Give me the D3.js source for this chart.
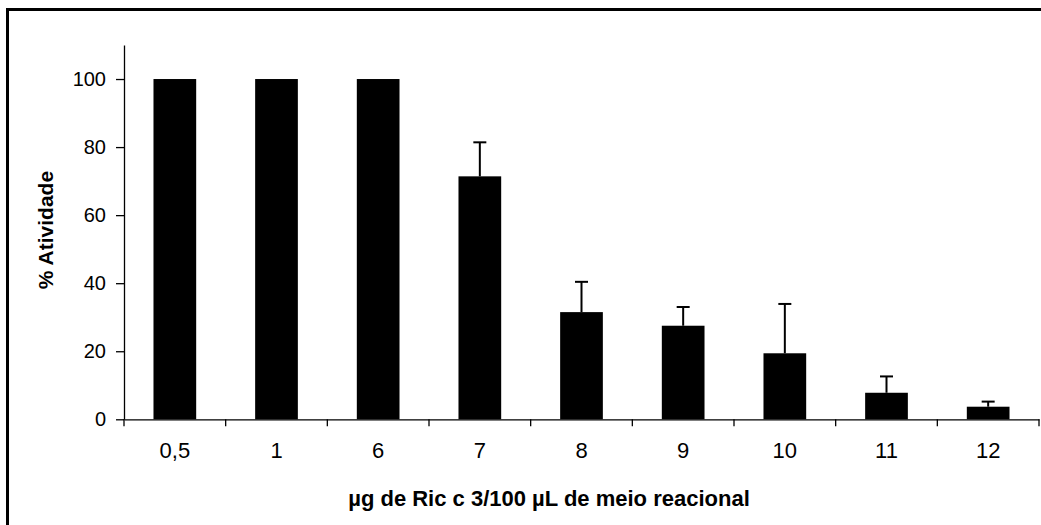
<!DOCTYPE html>
<html><head><meta charset="utf-8">
<script src="https://cdn.jsdelivr.net/npm/d3@7"></script>
<style>body{margin:0;background:#fff}svg{display:block}</style>
</head><body>
<svg id="c" width="1041" height="525"></svg>
<script>
const categories = ["0,5","1","6","7","8","9","10","11","12"];
const values = [100,100,100,71.4,31.5,27.5,19.4,7.8,3.7];
const errors = [0,0,0,10,8.9,5.5,14.5,4.8,1.5];
const yTicks = [0,20,40,60,80,100];

const svg = d3.select("#c");
const font = "'Liberation Sans', Arial, sans-serif";
svg.append("rect").attr("x",7.5).attr("y",9.5).attr("width",1040).attr("height",520)
  .attr("fill","none").attr("stroke","#000").attr("stroke-width",3);

const x0=124, x1=1039, yTop=45, yBot=419.3;
const x = d3.scaleBand().domain(categories).range([x0,x1]).paddingInner(0.58).paddingOuter(0.29);
const y = d3.scaleLinear().domain([0,110]).range([yBot,yTop]);

const g = svg.append("g");
// bars
g.selectAll("rect.bar").data(values).join("rect").attr("class","bar")
  .attr("x",(d,i)=>x(categories[i])).attr("width",x.bandwidth())
  .attr("y",d=>y(d)).attr("height",d=>y(0)-y(d)).attr("fill","#000");
// error bars
const eb = g.selectAll("g.err").data(values.map((v,i)=>({v,e:errors[i],c:categories[i]})).filter(d=>d.e>0)).join("g");
eb.append("line").attr("x1",d=>x(d.c)+x.bandwidth()/2).attr("x2",d=>x(d.c)+x.bandwidth()/2)
  .attr("y1",d=>y(d.v)).attr("y2",d=>y(d.v+d.e)).attr("stroke","#000").attr("stroke-width",2);
eb.append("line").attr("x1",d=>x(d.c)+x.bandwidth()/2-6.5).attr("x2",d=>x(d.c)+x.bandwidth()/2+6.5)
  .attr("y1",d=>y(d.v+d.e)).attr("y2",d=>y(d.v+d.e)).attr("stroke","#000").attr("stroke-width",2);

// y axis
const ya = svg.append("g").attr("transform",`translate(${x0},0)`)
  .call(d3.axisLeft(y).tickValues(yTicks).tickSize(8).tickPadding(10).tickSizeOuter(0));
ya.select(".domain").attr("stroke","#000").attr("stroke-width",1.3);
ya.selectAll(".tick line").attr("stroke","#000").attr("stroke-width",1.3);
ya.selectAll("text").attr("font-family",font).style("font-size","20px").attr("fill","#000");

// x axis
const xa = svg.append("g").attr("transform",`translate(0,${yBot})`)
  .call(d3.axisBottom(x).tickSize(0).tickPadding(23));
xa.select(".domain").attr("stroke","#000").attr("stroke-width",1.3);
xa.selectAll(".tick line").remove();
xa.selectAll("text").attr("font-family",font).style("font-size","22px").attr("fill","#000");
// boundary ticks
const bounds = d3.range(categories.length+1).map(i=>x0+i*(x1-x0)/categories.length);
svg.append("g").selectAll("line").data(bounds).join("line")
  .attr("x1",d=>d).attr("x2",d=>d).attr("y1",yBot).attr("y2",yBot+7)
  .attr("stroke","#000").attr("stroke-width",1.3);

// titles
svg.append("text").attr("transform","translate(53,230) rotate(-90)").attr("text-anchor","middle")
  .attr("font-family",font).style("font-size","21px").attr("font-weight","bold").text("% Atividade");
svg.append("text").attr("x",549).attr("y",506).attr("text-anchor","middle")
  .attr("font-family",font).style("font-size","22px").attr("font-weight","bold").text("µg de Ric c 3/100 µL de meio reacional");
</script>
</body></html>
